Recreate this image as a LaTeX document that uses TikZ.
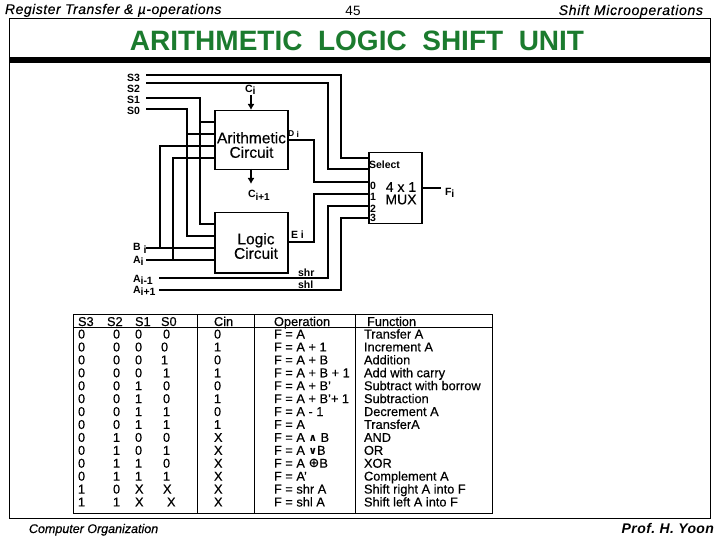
\documentclass[tikz,border=0pt]{standalone}
\usepackage{fontspec}
\usetikzlibrary{arrows.meta}
\setmainfont{Liberation Sans}
\newfontfamily\symfont{DejaVu Sans Bold}
\definecolor{titlegreen}{HTML}{1B7B2E}
\tikzset{
  x=1pt,y=-1pt,
  wire/.style={line width=1.4pt,line join=miter},
  box/.style={draw,line width=1.5pt,minimum width=73pt,inner sep=0pt},
  cell/.style={font=\fontsize{12.8}{12.8}\selectfont\addfontfeature{FakeBold=0.4},anchor=base west,inner sep=0,outer sep=0},
  lab/.style={font=\fontsize{10.5}{10.5}\selectfont\bfseries,inner sep=0,outer sep=0,anchor=base west},
  big/.style={font=\fontsize{15.5}{15.5}\selectfont\addfontfeature{FakeBold=0.4},inner sep=0,outer sep=0,align=center,text width=73pt},
  head/.style={inner sep=0,outer sep=0,anchor=base west}
}
\begin{document}
\begin{tikzpicture}
\useasboundingbox (0,0) rectangle (720,540);
% frame
\draw[line width=1pt] (9.5,18.5) rectangle (710.5,518);
\draw[line width=5.3pt] (9,60) -- (710.5,60);
% headers
\node[head,font=\fontsize{14}{14}\selectfont\itshape\addfontfeature{FakeBold=0.3,LetterSpace=3.6}] (hl) at (5,14) {Register Transfer \& \textmu-operations};
\node[font=\fontsize{13.5}{13.5}\selectfont,inner sep=0] (pg) at (353,11) {45};
\node[head,anchor=base east,font=\fontsize{14}{14}\selectfont\itshape\addfontfeature{FakeBold=0.3,LetterSpace=4.8}] (hr) at (703,15) {Shift Microoperations};
\node[head,font=\fontsize{12.5}{12.5}\selectfont\itshape\addfontfeature{FakeBold=0.4}] (fl) at (29,533) {Computer Organization};
\node[head,anchor=base east,font=\fontsize{14}{14}\selectfont\itshape\bfseries\addfontfeature{LetterSpace=3}] (fr) at (714,533) {Prof.\ H.\ Yoon};
\node[font=\fontsize{28}{28}\selectfont\bfseries,text=titlegreen,inner sep=0] (title) at (357,41) {ARITHMETIC\ \ LOGIC\ \ SHIFT\ \ UNIT};
% boxes
\node[box,minimum height=59pt,anchor=north west] (ac) at (214,110) {};
\node[box,minimum height=60pt,anchor=north west] (lc) at (214,212) {};
\node[draw,line width=1.5pt,minimum width=53pt,minimum height=71pt,anchor=north west,inner sep=0] (mux) at (368,152) {};
\node[big] (act) at (251.5,145) {Arithmetic\\[-1pt]Circuit};
\node[big] (lct) at (256,246) {Logic\\[-1pt]Circuit};
\node[font=\fontsize{14}{14}\selectfont\addfontfeature{FakeBold=0.4},inner sep=0] (mt) at (401,187) {4 x 1};
\node[font=\fontsize{14}{14}\selectfont\addfontfeature{FakeBold=0.4},inner sep=0] (mt2) at (401,199.5) {MUX};
% labels
\node[lab] (s3) at (127,82) {S3};
\node[lab] (s2) at (127,93) {S2};
\node[lab] (s1) at (127,104) {S1};
\node[lab] (s0) at (127,115) {S0};
\coordinate (s3e) at (146,75);
\coordinate (s2e) at (146,83);
\coordinate (s1e) at (146,98);
\coordinate (s0e) at (146,109);
\node[lab] (ci) at (245,93) {C\raisebox{-2pt}{i}};
\node[lab] (cip) at (248,198) {C\raisebox{-2pt}{\fontsize{10}{10}\selectfont i+1}};
\node[lab,font=\fontsize{8.5}{8.5}\selectfont\bfseries] (di) at (288,137) {D\ \raisebox{-1pt}{i}};
\node[lab] (ei) at (291,238) {E\ \raisebox{-1pt}{i}};
\node[lab] (bi) at (133,251) {B\ \raisebox{-2pt}{i}};
\node[lab] (ai) at (133,263) {A\raisebox{-2pt}{i}};
\node[lab] (aim) at (133,282) {A\raisebox{-2pt}{i-1}};
\node[lab] (aip) at (133,293) {A\raisebox{-2pt}{i+1}};
\node[lab] (shr) at (298,276) {shr};
\node[lab] (shl) at (298,288.5) {shl};
\node[lab] (sel) at (369,169) {Select};
\node[lab] (m0) at (370,190) {0};
\node[lab] (m1) at (370,201) {1};
\node[lab] (m2) at (370,212) {2};
\node[lab] (m3) at (370,222) {3};
\node[lab] (fi) at (445,196) {F\raisebox{-2pt}{i}};
% wires
\coordinate (ciT) at (251,95);
\coordinate (c2E) at (251,184);
\draw[wire,-{Latex[length=6pt,width=7pt]}] (ciT) -- (251,110);
\draw[wire,-{Latex[length=6pt,width=7pt]}] (251,169) -- (c2E);
\draw[wire] (s3e) -| (341,158) -- (368,158);
\draw[wire] (s2e) -| (328,169) -- (368,169);
\draw[wire] (287,140) -| (314,182) -- (368,182);
\draw[wire] (287,242) -| (314,194) -- (368,194);
\coordinate (shrS) at (159,278);
\coordinate (shlS) at (159,290);
\draw[wire] (shrS) -| (328,206) -- (368,206);
\draw[wire] (shlS) -| (341,218) -- (368,218);
\coordinate (fE) at (441,188);
\draw[wire] (421,188) -- (fE);
\draw[wire] (s1e) -| (200,224) -- (214,224);
\draw[wire] (s0e) -| (187,236) -- (214,236);
\draw[wire] (200,122) -- (214,122);
\draw[wire] (187,134) -- (214,134);
\draw[wire] (214,146) -| (160,248);
\draw[wire] (214,158) -| (173,260);
\draw[wire] (146,248) -- (214,248);
\draw[wire] (146,260) -- (214,260);
% table
\draw[line width=0.9pt] (73,314) rectangle (492,513);
\draw[line width=0.9pt] (73,327) -- (492,327);
\foreach \xx in {197,254,355} \draw[line width=0.9pt] (\xx,314) -- (\xx,513);
\foreach \tx/\lbl in {78/S3,107/S2,135/S1,161/S0,214/Cin,274/Operation,367/Function}
  \node[cell] at (\tx,326) {\lbl};
\foreach \n/\a/\ax/\b/\bx/\c/\cx/\d/\dx/\e/\op/\fn in {
0/0/78/0/113/0/135/0/163/0/{F = A}/{Transfer A},
1/0/78/0/113/0/135/0/161/1/{F = A + 1}/{Increment A},
2/0/78/0/113/0/135/1/161/0/{F = A + B}/{Addition},
3/0/78/0/113/0/135/1/163/1/{F = A + B + 1}/{Add with carry},
4/0/78/0/113/1/135/0/163/0/{F = A + B’}/{Subtract with borrow},
5/0/78/0/113/1/135/0/163/1/{F = A + B’+ 1}/{Subtraction},
6/0/78/0/113/1/135/1/163/0/{F = A - 1}/{Decrement A},
7/0/78/0/113/1/135/1/163/1/{F = A}/{TransferA},
8/0/78/1/113/0/135/0/163/X/{F = A {\symfont\fontsize{10.5}{10}\selectfont ∧} B}/{AND},
9/0/78/1/113/0/135/1/163/X/{F = A {\symfont\fontsize{10.5}{10}\selectfont ∨}B}/{OR},
10/0/78/1/113/1/135/0/163/X/{F = A {\symfont\fontsize{13}{13}\selectfont ⊕}B}/{XOR},
11/0/78/1/113/1/135/1/163/X/{F = A’}/{Complement A},
12/1/78/0/113/X/135/X/163/X/{F = shr A}/{Shift right A into F},
13/1/78/1/113/X/135/X/167/X/{F = shl A}/{Shift left A into F}}{
  \pgfmathsetmacro{\ry}{338.5+\n*12.92}
  \node[cell] at (\ax,\ry) {\a};
  \node[cell] at (\bx,\ry) {\b};
  \node[cell] at (\cx,\ry) {\c};
  \node[cell] at (\dx,\ry) {\d};
  \node[cell] at (214,\ry) {\e};
  \node[cell] at (274,\ry) {\op};
  \node[cell] at (364,\ry) {\fn};
}
\end{tikzpicture}
\end{document}
